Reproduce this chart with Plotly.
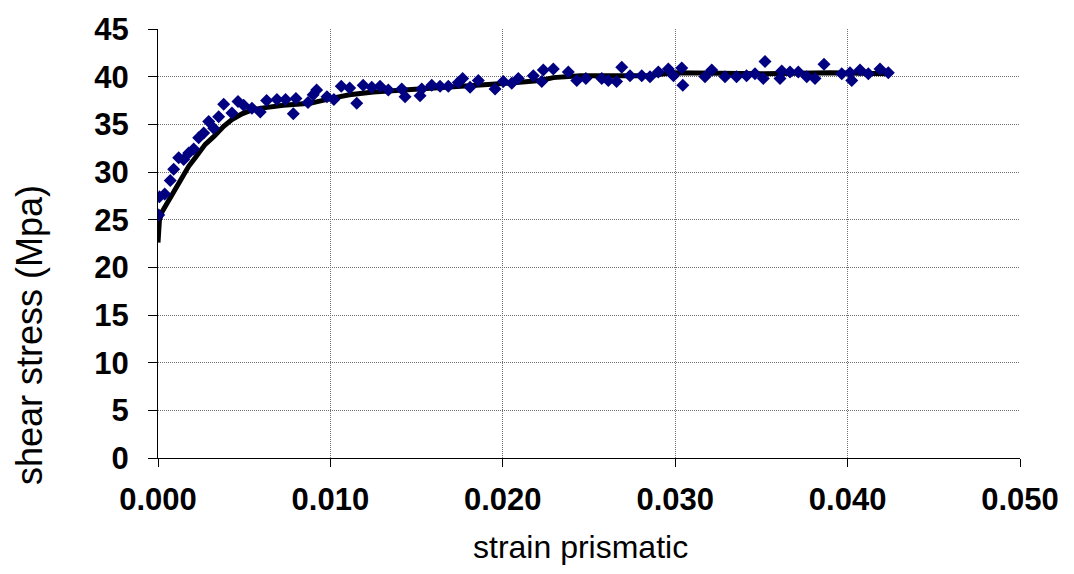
import plotly.graph_objects as go

# Scatter data (measured)
strain_pts = [0.00004, 0.00008, 0.00039, 0.00071, 0.00091, 0.0012, 0.00149, 0.00178, 0.00207, 0.00236,
              0.00265, 0.00294, 0.00323, 0.00352, 0.00381, 0.00429, 0.00464, 0.00497, 0.00545, 0.00593,
              0.0063, 0.0069, 0.0074, 0.00785, 0.008, 0.0087, 0.009, 0.0092, 0.0098, 0.0102,
              0.01063, 0.01112, 0.01153, 0.0119, 0.0124, 0.01288, 0.01336, 0.01414, 0.01433, 0.0152,
              0.0153, 0.01588, 0.01636, 0.01684, 0.01742, 0.01767, 0.0181, 0.01858, 0.01955, 0.02003,
              0.02052, 0.0209, 0.02177, 0.02226, 0.02235, 0.02293, 0.0238, 0.02429, 0.02482, 0.02574,
              0.02612, 0.0266, 0.0269, 0.02738, 0.02806, 0.02854, 0.02902, 0.0296, 0.0299, 0.03038,
              0.03044, 0.03173, 0.03212, 0.03289, 0.03356, 0.03414, 0.03463, 0.03511, 0.03521, 0.03608,
              0.03618, 0.03666, 0.03714, 0.03763, 0.03811, 0.03863, 0.03966, 0.04014, 0.04024, 0.04072,
              0.0412, 0.04188, 0.04236]
stress_pts = [25.5, 27.4, 27.7, 29.1, 30.3, 31.5, 31.3, 32.0, 32.4, 33.6,
              34.1, 35.3, 34.6, 35.8, 37.1, 36.2, 37.4, 37.0, 36.7, 36.3,
              37.5, 37.6, 37.6, 36.1, 37.7, 37.3, 38.1, 38.6, 37.9, 37.6,
              39.0, 38.8, 37.2, 39.1, 38.9, 39.0, 38.6, 38.7, 37.9, 38.0,
              38.7, 39.1, 39.0, 39.0, 39.4, 39.8, 38.9, 39.6, 38.7, 39.5,
              39.3, 39.8, 40.1, 39.5, 40.7, 40.8, 40.5, 39.6, 39.8, 39.8,
              39.6, 39.5, 41.0, 40.1, 40.1, 40.0, 40.5, 40.8, 40.1, 40.9,
              39.1, 40.0, 40.7, 40.0, 40.0, 40.1, 40.3, 39.8, 41.6, 39.8,
              40.6, 40.5, 40.5, 40.0, 39.8, 41.3, 40.3, 40.4, 39.6, 40.7,
              40.3, 40.8, 40.4]

# Smoothed curve
strain_line = [0.0, 0.00008, 0.00023, 0.00062, 0.00081, 0.0011, 0.00139, 0.00178, 0.00216, 0.00274,
               0.00323, 0.00381, 0.00429, 0.00487, 0.00545, 0.006, 0.00727, 0.00882, 0.0100, 0.0111,
               0.01249, 0.01443, 0.01636, 0.01752, 0.01829, 0.02023, 0.02216, 0.02293, 0.02448, 0.02564,
               0.02641, 0.02835, 0.0299, 0.03222, 0.03511, 0.03898, 0.04236]
stress_line = [22.6, 24.9, 25.8, 27.0, 27.7, 28.5, 29.4, 30.6, 31.5, 32.9,
               33.7, 34.8, 35.5, 36.1, 36.5, 36.7, 37.0, 37.2, 37.7, 38.1,
               38.4, 38.6, 38.8, 38.9, 39.1, 39.3, 39.6, 39.9, 40.1, 40.1,
               40.0, 40.1, 40.4, 40.3, 40.3, 40.4, 40.3]

x_ticks = [0.0, 0.01, 0.02, 0.03, 0.04, 0.05]
y_ticks = [0, 5, 10, 15, 20, 25, 30, 35, 40, 45]

FONT = "Liberation Sans, Arial, sans-serif"

fig = go.Figure()
fig.add_trace(go.Scatter(x=strain_line, y=stress_line, mode="lines",
                         line=dict(color="black", width=5), showlegend=False))
fig.add_trace(go.Scatter(x=strain_pts, y=stress_pts, mode="markers",
                         marker=dict(symbol="diamond", color="#000080", size=10, line=dict(width=0)),
                         showlegend=False))

axis_common = dict(showline=True, linecolor="black", linewidth=1,
                   showgrid=True, gridcolor="#707070", gridwidth=1, griddash="1px,1px",
                   ticks="outside", tickcolor="black", tickwidth=1,
                   zeroline=False,
                   tickfont=dict(family=FONT, size=31, color="black", weight="bold"))

fig.update_xaxes(range=[0, 0.05], tickvals=x_ticks, ticktext=[f"{v:.3f}" for v in x_ticks],
                 ticklen=8, ticklabelstandoff=6, **axis_common)
fig.update_yaxes(range=[0, 45], tickvals=y_ticks, ticktext=[str(v) for v in y_ticks],
                 ticklen=9, ticklabelstandoff=13, **axis_common)

fig.add_annotation(text="shear stress (Mpa)", xref="paper", yref="paper",
                   x=-0.149, y=0.2857, xanchor="center", yanchor="middle",
                   textangle=-90, showarrow=False,
                   font=dict(family=FONT, size=36, color="black"))
fig.add_annotation(text="strain prismatic", xref="paper", yref="paper",
                   x=0.4896, y=-0.2074, xanchor="center", yanchor="middle",
                   showarrow=False,
                   font=dict(family=FONT, size=32, color="black"))

fig.update_layout(width=1074, height=574, margin=dict(l=158, r=54, t=24, b=116),
                  plot_bgcolor="white", paper_bgcolor="white")

fig.write_html("out.html")
